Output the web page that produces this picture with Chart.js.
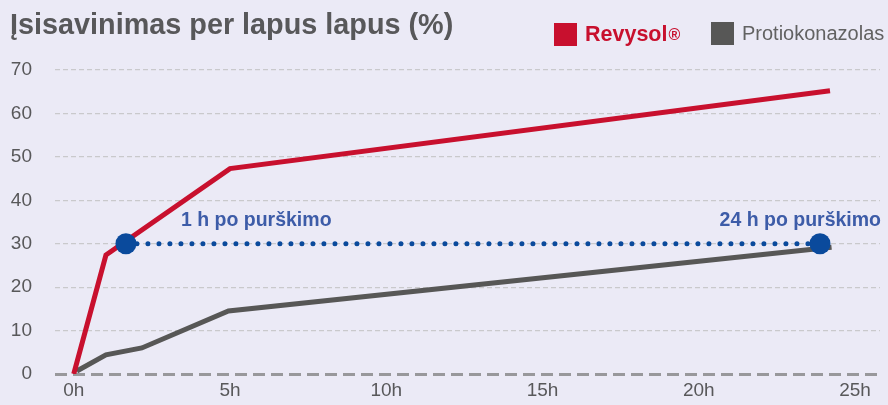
<!DOCTYPE html>
<html>
<head>
<meta charset="utf-8">
<script src="https://cdn.jsdelivr.net/npm/chart.js"></script>
<style>
  html, body { margin: 0; padding: 0; background: #ebeaf6; }
  #wrap { position: relative; width: 888px; height: 405px; font-family: "Liberation Sans", Arial, sans-serif; }
  #title { position: absolute; left: 10px; top: 8px; font-size: 28.8px; font-weight: bold; color: #58585a; }
  .leg { position: absolute; top: 22px; display: flex; align-items: center; }
  .leg span.box { width: 23px; height: 23px; margin-right: 8px; }
  #leg1 { left: 554px; color: #c8102e; font-weight: bold; font-size: 21.5px; }
  #leg2 { left: 711px; color: #626262; font-size: 20px; }
  sup { font-size: 16px; vertical-align: 6px; margin-left: 1px; }
  canvas { position: absolute; left: 0; top: 0; }
</style>
</head>
<body>
<div id="wrap">
  <canvas id="c" width="888" height="405"></canvas>
  <div id="title">Įsisavinimas per lapus lapus (%)</div>
  <div class="leg" id="leg1"><span class="box" style="background:#c8102e"></span>Revysol<sup>®</sup></div>
  <div class="leg" id="leg2"><span class="box" style="background:#575756"></span>Protiokonazolas</div>
</div>
<script>
// data (hours after spraying, % uptake)
const revysolX = [0, 1.03, 5, 24.2];
const revysolY = [0, 27.4, 47.3, 65.2];
const protioX = [0.1, 1.03, 2.18, 4.95, 24.25];
const protioY = [0.7, 4.4, 6.0, 14.5, 29.2];
const markerX = [1.67, 23.88];
const markerY = [30, 30];
const markerLabels = ['1 h po purškimo', '24 h po purškimo'];
const xTicks = [0, 5, 10, 15, 20, 25];
const yTicks = [0, 10, 20, 30, 40, 50, 60, 70];

const toPts = (xs, ys) => xs.map((x, i) => ({x: x, y: ys[i]}));

const markerText = {
    id: 'markerText',
    afterDatasetsDraw(chart) {
        const ctx = chart.ctx;
        const xs = chart.scales.x, ys = chart.scales.y;
        ctx.save();
        ctx.font = 'bold 19.5px "Liberation Sans", Arial, sans-serif';
        ctx.fillStyle = '#3d5ca8';
        ctx.textBaseline = 'middle';
        const p0 = xs.getPixelForValue(markerX[0]);
        const p1 = xs.getPixelForValue(markerX[1]);
        const py = ys.getPixelForValue(markerY[0]) - 23;
        ctx.textAlign = 'left';
        ctx.fillText(markerLabels[0], p0 + 55, py);
        ctx.textAlign = 'right';
        ctx.fillText(markerLabels[1], p1 + 61, py);
        ctx.restore();
    }
};

new Chart(document.getElementById('c'), {
    type: 'line',
    data: {
        datasets: [{
            data: toPts(markerX, markerY),
            borderColor: '#0a4a9c',
            backgroundColor: '#0a4a9c',
            borderWidth: 5,
            borderDash: [0, 11],
            borderCapStyle: 'round',
            pointRadius: 10.5,
            pointBorderWidth: 0,
            order: 0
        }, {
            data: toPts(revysolX, revysolY),
            borderColor: '#c8102e',
            borderWidth: 5,
            pointRadius: 0,
            order: 1
        }, {
            data: toPts(protioX, protioY),
            borderColor: '#575756',
            borderWidth: 5,
            pointRadius: 0,
            order: 2
        }]
    },
    options: {
        responsive: false,
        animation: false,
        layout: { autoPadding: false, padding: { top: 70, right: 8, left: 0, bottom: 0 } },
        plugins: { legend: { display: false }, tooltip: { enabled: false } },
        scales: {
            x: {
                type: 'linear',
                min: -0.6,
                max: 25.8,
                afterFit: s => { s.height = 31; },
                afterBuildTicks: s => { s.ticks = xTicks.map(v => ({value: v})); },
                grid: { display: false, drawTicks: false },
                border: { display: false },
                ticks: {
                    padding: 5,
                    color: '#58585a',
                    font: { size: 19, family: '"Liberation Sans", Arial, sans-serif' },
                    callback: v => v + 'h'
                }
            },
            y: {
                min: 0,
                max: 70,
                afterFit: s => { s.width = 55; s.paddingTop = 12; s.paddingBottom = 12; },
                afterBuildTicks: s => { s.ticks = yTicks.map(v => ({value: v})); },
                grid: {
                    drawTicks: false,
                    color: c => c.tick && c.tick.value === 0 ? '#98989b' : '#c9c9cc',
                    lineWidth: c => c.tick && c.tick.value === 0 ? 3 : 1.2
                },
                border: {
                    display: false,
                    dash: c => c.tick && c.tick.value === 0 ? [12, 6] : [5, 3]
                },
                ticks: {
                    padding: 23,
                    color: '#58585a',
                    font: { size: 19, family: '"Liberation Sans", Arial, sans-serif' }
                }
            }
        }
    },
    plugins: [markerText]
});
</script>
</body>
</html>
